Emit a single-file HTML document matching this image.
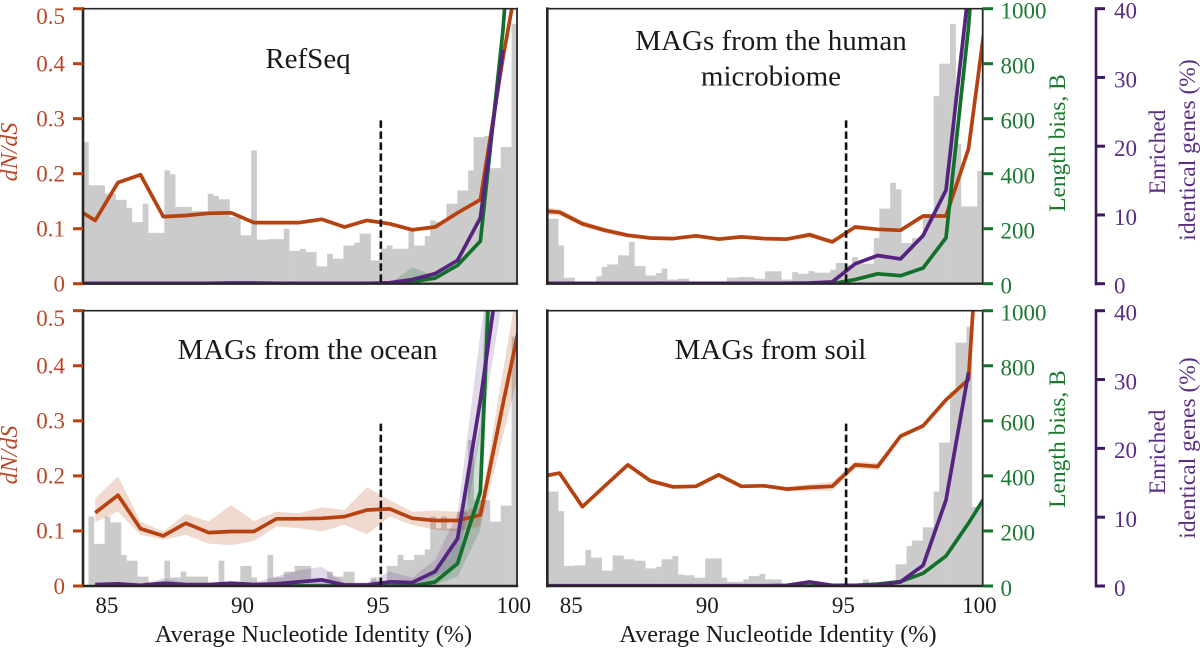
<!DOCTYPE html>
<html lang="en">
<head>
<meta charset="utf-8">
<title>dN/dS, length bias and enriched identical genes versus ANI</title>
<style>
html,body{margin:0;padding:0;background:#fff;width:1200px;height:649px;overflow:hidden}
svg{display:block}
text{font-family:"Liberation Serif",serif}
.red{fill:#b8482a}.green{fill:#1c7a30}.purple{fill:#5a2d82}.black{fill:#1a1a1a}
</style>
</head>
<body>
<svg id="chart" xmlns="http://www.w3.org/2000/svg" width="1200" height="649" viewBox="0 0 1200 649">
  <rect width="1200" height="649" fill="#fff"/>
  <g id="panels"></g>
  <g id="axes"></g>

  <text class="black" x="308" y="68" font-size="29" text-anchor="middle">RefSeq</text>
  <text class="black" x="771" y="50" font-size="29" text-anchor="middle">MAGs from the human</text>
  <text class="black" x="771" y="85.5" font-size="29" text-anchor="middle">microbiome</text>
  <text class="black" x="307.5" y="359" font-size="29" text-anchor="middle">MAGs from the ocean</text>
  <text class="black" x="770.5" y="359" font-size="29" text-anchor="middle">MAGs from soil</text>

  <text class="black" x="313.5" y="642" font-size="24.3" text-anchor="middle">Average Nucleotide Identity (%)</text>
  <text class="black" x="778" y="642" font-size="24.3" text-anchor="middle">Average Nucleotide Identity (%)</text>

  <text class="red" font-style="italic" font-size="24" text-anchor="middle" transform="translate(17 152) rotate(-90)">dN/dS</text>
  <text class="red" font-style="italic" font-size="24" text-anchor="middle" transform="translate(17 455) rotate(-90)">dN/dS</text>

  <text class="green" font-size="23.5" text-anchor="middle" transform="translate(1065 143) rotate(-90)">Length bias, B</text>
  <text class="green" font-size="23.5" text-anchor="middle" transform="translate(1065 439) rotate(-90)">Length bias, B</text>

  <text class="purple" font-size="23.5" text-anchor="middle" transform="translate(1165 152) rotate(-90)">Enriched</text>
  <text class="purple" font-size="23.5" text-anchor="middle" transform="translate(1195 150) rotate(-90)">identical genes (%)</text>
  <text class="purple" font-size="23.5" text-anchor="middle" transform="translate(1165 452) rotate(-90)">Enriched</text>
  <text class="purple" font-size="23.5" text-anchor="middle" transform="translate(1195 448) rotate(-90)">identical genes (%)</text>
</svg>

<script>
// Axis tick values
const xTicks = [85, 90, 95, 100];
const dndsTicks = [0, 0.1, 0.2, 0.3, 0.4, 0.5];
const lengthTicks = [0, 200, 400, 600, 800, 1000];
const enrichedTicks = [0, 10, 20, 30, 40];
const thresholdAni = 94.98;
const thresholdDnds = [0.297, 0.297, 0.295, 0.295];

// ANI value of each line sample
const ani = [83.62,84.45,85.29,86.12,86.96,87.79,88.63,89.46,90.3,91.13,91.97,92.8,93.64,94.47,95.31,96.14,96.98,97.81,98.65,99.48,100.32];

// Histogram heights (% of axis height), 80 bins of 0.2 ANI
const refseqHist = [51.5,35.8,35.8,35.8,32.7,32.7,30.5,30.5,27.6,22.4,22.4,29.1,18.5,18.5,18.5,41.2,39.8,27.9,27.9,27.9,26.4,26.4,26.4,32.7,31.9,30.7,30.7,24.2,24.2,17.6,17.6,48.5,16,16,16.2,16.2,16.2,20,11.9,11.9,12.7,11.5,11.5,6.3,6.3,10.9,9.1,9.1,13.9,13.9,14.9,18.2,18.2,8.5,8.5,12.7,13.9,12.7,12.7,12.7,19.2,13.9,13.9,17.3,23,22.4,22.4,29.1,29.1,33.9,33.9,41.2,53.3,53.3,53.7,42,42,49.7,49.7,94.5];
const humanHist = [23.6,23.6,13.9,2.2,2.2,.8,.8,.8,.8,2.7,6.1,7,7,10.3,10.3,15.2,6.4,6.4,3,3,3.9,5.5,1.5,1.5,1.8,1.8,.6,.6,.6,.6,.6,.6,.6,2.2,2.2,2.4,2.4,2.4,1.8,1.8,4.5,4.5,4.5,1.5,1.5,4.2,3.6,3.6,4.6,4,4,4,5.1,7.6,7.6,6.7,9.7,7.3,7.3,7.3,16.6,27.3,27.3,36.7,34.3,14.8,14.8,16.6,16.6,24.2,24.2,68.2,80,80,94.5,50.9,28.1,28.1,28.1,41];
const oceanHist = [0,25.2,15.3,15.3,25.2,23.1,23.1,11.3,9.2,9.2,3.4,3.4,0,0,0,9.2,3.1,3.1,5.2,3.4,3.4,3.4,3.4,0,0,9.2,0,0,0,7.3,7.3,3.1,0,0,11.3,3.1,3.1,5.2,5.2,7.3,7.3,7.3,2.2,2.2,2.2,5.2,3.4,3.4,5.2,5.2,0,0,0,3.1,0,0,7.3,7.3,11.3,9.4,9.4,11.3,11.3,13.3,25.2,20.9,25.2,20.9,20.9,27,27,53,31.2,31.2,31.2,23.4,23.4,29.2,29.2,90.6];
const soilHist = [34.3,34.3,27.2,7.3,7.3,7.5,7.5,13.1,10.3,10.3,5.6,5.6,11.1,11.1,9.7,9.7,9.2,9.2,6.4,6.4,7,9.7,9.7,10.9,4.2,3.9,3.9,3,3,10,10,10,3,1.5,1.5,1.5,2.4,3.6,3.6,4.4,2.4,2.4,2.4,0,0,0,0,0,0,0,0,0,0,0,0,0,0,0,2.4,0,0,0,0,0,7.9,7.9,14.5,16.5,16.5,21.3,21.3,34.3,52.1,52.1,70.6,88.4,88.4,94.2,28.8,28.8];

// RefSeq series
const refseqRed = [.14,.115,.184,.198,.122,.124,.128,.129,.111,.111,.111,.117,.103,.115,.109,.098,.103,.129,.153,.41,.64];
const refseqRedHi = [.143,.118,.187,.201,.125,.127,.131,.132,.114,.114,.114,.12,.106,.118,.112,.101,.106,.132,.156,.415,.65];
const refseqRedLo = [.137,.112,.181,.195,.119,.121,.125,.126,.108,.108,.108,.114,.1,.112,.106,.095,.1,.126,.15,.405,.63];
const refseqGreen = [0,0,0,0,0,0,0,0,0,0,0,0,0,0,0,8,20,67,155,920,2000];
const refseqGreenHi = [0,0,0,0,0,0,0,0,0,0,0,0,0,0,0,60,28,75,165,950,2050];
const refseqGreenLo = [0,0,0,0,0,0,0,0,0,0,0,0,0,0,0,0,15,60,145,890,1950];
const refseqPurple = [.05,.05,.05,.05,.05,.05,.05,.1,.1,.05,.05,.05,.05,.05,.15,.6,1.45,3.4,9.6,34,null];

// Human microbiome series
const humanRed = [.133,.13,.109,.097,.088,.083,.082,.087,.081,.085,.082,.081,.089,.076,.103,.099,.097,.123,.123,.245,.56];
const humanRedHi = [.14,.136,.114,.102,.092,.086,.085,.09,.084,.088,.085,.084,.094,.08,.107,.102,.1,.126,.126,.25,.57];
const humanRedLo = [.126,.124,.104,.092,.084,.08,.079,.084,.078,.082,.079,.078,.084,.072,.099,.096,.094,.12,.12,.24,.55];
const humanGreen = [0,0,0,0,0,0,0,0,0,0,0,0,0,0,15,36,29,57,167,933,2000];
const humanPurple = [.05,.05,.05,.05,.05,.05,.05,.05,.05,.05,.05,.05,.1,.25,2.9,4.1,3.6,7,13.6,42.6,70];

// Ocean series
const oceanRed = [null,.133,.165,.104,.091,.114,.097,.099,.099,.122,.122,.123,.126,.138,.14,.123,.119,.119,.129,.33,.527];
const oceanRedHi = [null,.159,.199,.117,.099,.131,.117,.147,.118,.135,.132,.143,.138,.179,.156,.135,.137,.135,.144,.39,.63];
const oceanRedLo = [null,.116,.135,.093,.084,.093,.077,.074,.082,.108,.105,.099,.111,.094,.126,.111,.102,.099,.108,.272,.437];
const oceanGreen = [null,0,0,0,0,0,0,0,0,0,0,0,0,0,0,0,15,82,343,2300,3500];
const oceanGreenHi = [null,0,0,0,0,0,0,0,0,0,0,0,0,0,0,0,46,190,590,2700,3800];
const oceanGreenLo = [null,0,0,0,0,0,0,0,0,0,0,0,0,0,0,0,4,34,203,2000,3000];
const oceanPurple = [null,.2,.3,.1,.4,.2,.2,.4,.2,.3,.6,.9,.15,.15,.6,.5,2.1,6.9,27,50,70];
const oceanPurpleHi = [null,.4,.5,.3,1.1,.5,.5,.7,.5,1.4,2.3,2.8,.5,.5,2.1,1.2,3.8,10.5,36.7,58,90];
const oceanPurpleLo = [null,0,0,0,0,0,0,.1,0,0,0,.1,0,0,0,.1,1.4,2.8,22,42,60];

// Soil series
const soilRed = [.197,.205,.144,.182,.22,.191,.18,.181,.202,.181,.182,.176,.179,.181,.22,.217,.272,.291,.338,.375,1.02];
const soilRedHi = [.2,.208,.147,.185,.224,.195,.183,.184,.206,.184,.185,.18,.185,.189,.226,.224,.276,.295,.342,.379,1.03];
const soilRedLo = [.194,.202,.141,.179,.216,.187,.177,.178,.198,.178,.179,.172,.173,.173,.214,.21,.268,.287,.334,.371,1.01];
const soilGreen = [0,0,0,0,0,0,0,0,0,0,0,0,0,0,2,7,16,46,109,228,360];
const soilPurple = [.05,.05,.05,.05,.05,.05,.05,.05,.05,.05,.05,.1,.6,.1,.1,.1,.6,3,12.5,31,null];

const COLORS = {red:'#b5420f', green:'#12702b', purple:'#54247f', hist:'#cbcbcb', spine:'#262626'};
const NS = 'http://www.w3.org/2000/svg';
const panelsRoot = document.getElementById('panels');
const axesRoot = document.getElementById('axes');

function make(tag, attrs, parent){
  const el = document.createElementNS(NS, tag);
  for (const k in attrs) el.setAttribute(k, attrs[k]);
  parent.appendChild(el);
  return el;
}

function bandPath(xs, hi, lo, sx, sy){
  const up = [], down = [];
  xs.forEach((v, i) => {
    if (hi[i] === null || lo[i] === null) return;
    up.push(sx(v).toFixed(1) + ',' + sy(hi[i]).toFixed(1));
    down.unshift(sx(v).toFixed(1) + ',' + sy(lo[i]).toFixed(1));
  });
  return 'M' + up.concat(down).join('L') + 'Z';
}

function linePath(xs, ys, sx, sy){
  const pts = [];
  xs.forEach((v, i) => {
    if (ys[i] === null) return;
    pts.push(sx(v).toFixed(1) + ',' + sy(ys[i]).toFixed(1));
  });
  return 'M' + pts.join('L');
}

function drawPanel(p, idx){
  const sx = v => p.left + (v - 84) / 16 * (p.right - p.left);
  const h = p.bottom - p.top;
  const sRed = v => p.bottom - v / 0.5 * h;
  const sGreen = v => p.bottom - v / 1000 * h;
  const sPurple = v => p.bottom - v / 40 * h;
  const sHist = v => p.bottom - v / 100 * h;

  const g = make('g', {}, panelsRoot);
  
  

  const clipId = 'clip-' + p.key;
  const defs = make('defs', {}, g);
  const clip = make('clipPath', {id: clipId}, defs);
  make('rect', {x: p.left, y: p.top, width: p.right - p.left, height: h}, clip);

  const plot = make('g', {'clip-path': 'url(#' + clipId + ')'}, g);
  
  

  p.hist.forEach((v, i) => {
    if (v <= 0) return;
    const x0 = sx(84 + i * 0.2), x1 = sx(84 + (i + 1) * 0.2);
    const bar = make('rect', {x: x0.toFixed(2), y: sHist(v).toFixed(2), width: (x1 - x0 + 0.3).toFixed(2), height: (p.bottom - sHist(v)).toFixed(2), fill: COLORS.hist}, plot);
    
    
  });

  const redBand = make('path', {d: bandPath(ani, p.redHi, p.redLo, sx, sRed), fill: COLORS.red, 'fill-opacity': 0.2}, plot);
  
  

  if (p.greenHi) {
    const greenBand = make('path', {d: bandPath(ani, p.greenHi, p.greenLo, sx, sGreen), fill: COLORS.green, 'fill-opacity': 0.2}, plot);
    
    
  }
  if (p.purpleHi) {
    const purpleBand = make('path', {d: bandPath(ani, p.purpleHi, p.purpleLo, sx, sPurple), fill: COLORS.purple, 'fill-opacity': 0.17}, plot);
    
    
  }

  const lineStyle = {fill: 'none', 'stroke-width': 3.7, 'stroke-linejoin': 'round', 'stroke-linecap': 'butt'};

  const redLine = make('path', Object.assign({d: linePath(ani, p.red, sx, sRed), stroke: COLORS.red}, lineStyle), plot);
  
  

  const greenLine = make('path', Object.assign({d: linePath(ani, p.green, sx, sGreen), stroke: COLORS.green}, lineStyle), plot);
  
  

  const purpleLine = make('path', Object.assign({d: linePath(ani, p.purple, sx, sPurple), stroke: COLORS.purple}, lineStyle), plot);
  
  

  const dash = make('line', {x1: sx(thresholdAni), x2: sx(thresholdAni), y1: sRed(thresholdDnds[idx]), y2: p.bottom, stroke: '#111', 'stroke-width': 2.6, 'stroke-dasharray': '7.5 3.5'}, g);
  
  

  const spines = [
    {n: 'top', x1: p.left, y1: p.top, x2: p.right, y2: p.top, w: 1.6},
    {n: 'right', x1: p.right, y1: p.top, x2: p.right, y2: p.bottom, w: 1.8},
    {n: 'bottom', x1: p.left, y1: p.bottom, x2: p.right, y2: p.bottom, w: 2.4},
    {n: 'left', x1: p.left, y1: p.top, x2: p.left, y2: p.bottom, w: 2.6}
  ];
  spines.forEach(s => {
    const sp = make('line', {x1: s.x1, y1: s.y1, x2: s.x2, y2: s.y2, stroke: COLORS.spine, 'stroke-width': s.w, 'stroke-linecap': 'square'}, g);
    
    
  });

  if (p.bottomRow) {
    xTicks.forEach(t => {
      const lab = make('text', {x: sx(t) - 3.3, y: 613, 'font-size': 23, 'text-anchor': 'middle', class: 'black'}, axesRoot);
      lab.textContent = String(t);
      
      
    });
  }

  if (p.leftAxis) {
    dndsTicks.forEach(t => {
      const y = sRed(t);
      const tick = make('line', {x1: 73, x2: p.left, y1: y, y2: y, stroke: COLORS.red, 'stroke-width': 3}, axesRoot);
      
      
      const cy = Math.max(y, p.top + 7.5);
      const lab = make('text', {x: 65, y: cy + 7.8, 'font-size': 23, 'text-anchor': 'end', class: 'red'}, axesRoot);
      lab.textContent = String(t);
      
      
    });
  } else {
    lengthTicks.forEach(t => {
      const y = sGreen(t);
      const tick = make('line', {x1: p.right, x2: 993, y1: y, y2: y, stroke: COLORS.green, 'stroke-width': 3}, axesRoot);
      
      
      const lab = make('text', {x: 1000.5, y: y + 9.8, 'font-size': 23, class: 'green'}, axesRoot);
      lab.textContent = String(t);
      
      
    });

    const axisLine = make('line', {x1: 1096, x2: 1096, y1: p.top - 1.5, y2: p.bottom + 1.5, stroke: '#3d1a60', 'stroke-width': 2.6}, axesRoot);
    
    

    enrichedTicks.forEach(t => {
      const y = sPurple(t);
      const tick = make('line', {x1: 1095, x2: 1105, y1: y, y2: y, stroke: '#3d1a60', 'stroke-width': 3}, axesRoot);
      
      
      const lab = make('text', {x: 1114, y: y + 9.8, 'font-size': 23, class: 'purple'}, axesRoot);
      lab.textContent = String(t);
      
      
    });
  }
}

const panels = [
  {key:'refseq', left:83, right:517, top:8.7, bottom:283.7, leftAxis:true, bottomRow:false, hist:refseqHist, red:refseqRed, redHi:refseqRedHi, redLo:refseqRedLo, green:refseqGreen, greenHi:refseqGreenHi, greenLo:refseqGreenLo, purple:refseqPurple},
  {key:'human', left:547.3, right:982.7, top:8.7, bottom:283.7, leftAxis:false, bottomRow:false, hist:humanHist, red:humanRed, redHi:humanRedHi, redLo:humanRedLo, green:humanGreen, purple:humanPurple},
  {key:'ocean', left:83, right:517, top:310.7, bottom:586, leftAxis:true, bottomRow:true, hist:oceanHist, red:oceanRed, redHi:oceanRedHi, redLo:oceanRedLo, green:oceanGreen, greenHi:oceanGreenHi, greenLo:oceanGreenLo, purple:oceanPurple, purpleHi:oceanPurpleHi, purpleLo:oceanPurpleLo},
  {key:'soil', left:547.3, right:982.7, top:310.7, bottom:586, leftAxis:false, bottomRow:true, hist:soilHist, red:soilRed, redHi:soilRedHi, redLo:soilRedLo, green:soilGreen, purple:soilPurple}
];
panels.forEach(drawPanel);
</script>
</body>
</html>
